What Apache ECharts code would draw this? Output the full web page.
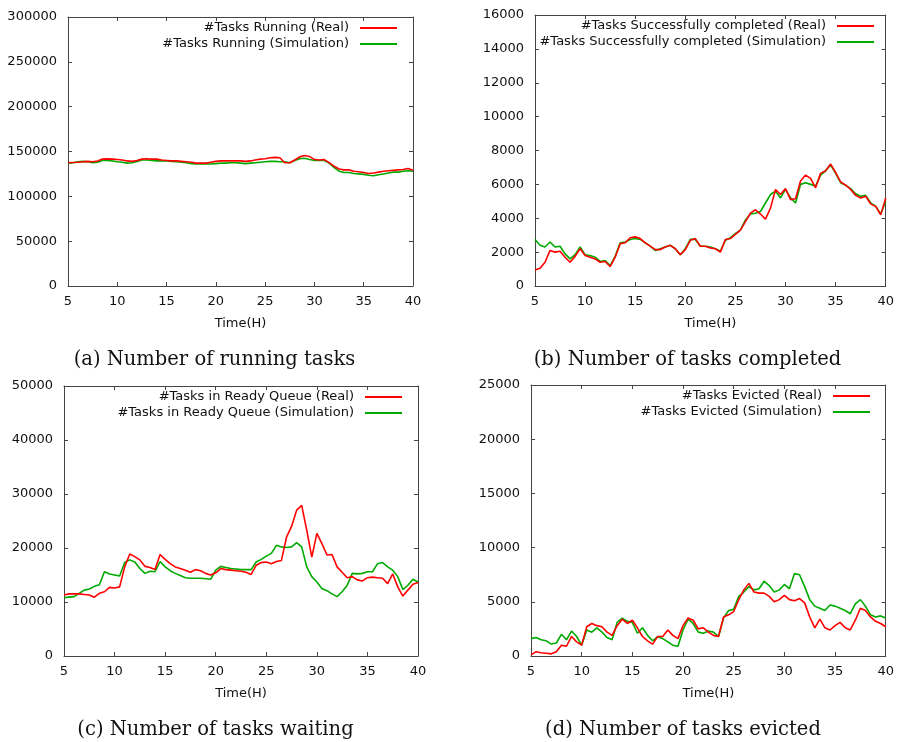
<!DOCTYPE html>
<html>
<head>
<meta charset="utf-8">
<title>tasks</title>
<script src="https://cdn.jsdelivr.net/npm/echarts@6/dist/echarts.min.js"></script>
<style>
	html, body { margin: 0; padding: 0; background: #fff; }
	#main { width: 897px; height: 742px; }
</style>
</head>
<body>
<div id="main"></div>
<script>
	// 时间轴（小时）
	var hours = [5, 5.5, 6, 6.5, 7, 7.5, 8, 8.5, 9, 9.5, 10, 10.5, 11, 11.5, 12, 12.5, 13, 13.5, 14, 14.5,
		15, 15.5, 16, 16.5, 17, 17.5, 18, 18.5, 19, 19.5, 20, 20.5, 21, 21.5, 22, 22.5, 23, 23.5, 24, 24.5,
		25, 25.5, 26, 26.5, 27, 27.5, 28, 28.5, 29, 29.5, 30, 30.5, 31, 31.5, 32, 32.5, 33, 33.5, 34, 34.5,
		35, 35.5, 36, 36.5, 37, 37.5, 38, 38.5, 39, 39.5, 40]

	// (a) running
	var runningReal = [137500, 137800, 138000, 138500, 139000, 138500, 139500, 141500, 141800, 141500,
		141000, 140500, 139500, 139000, 140000, 141500, 142000, 141500, 141500, 140500,
		140000, 139500, 139500, 139000, 138500, 138000, 137000, 137000, 137000, 138000,
		139000, 139500, 139500, 139500, 139500, 139500, 139000, 139500, 140500, 141500,
		142000, 143000, 143500, 143000, 137500, 137500, 140500, 144000, 145500, 144500,
		141000, 140500, 141000, 137500, 133500, 130500, 129500, 129500, 128000, 127500,
		126500, 125500, 126000, 127000, 128000, 128500, 129000, 129500, 130000, 131000, 129000]
	var runningSim = [137000, 137500, 138500, 139000, 138500, 137500, 138000, 140000, 140000, 139500,
		138500, 138000, 137000, 137500, 139000, 140500, 140500, 140000, 139500, 139500,
		139500, 139000, 138500, 138000, 137500, 136500, 136000, 136500, 136000, 136000,
		136500, 137000, 137000, 137500, 137500, 137000, 136500, 137000, 137500, 138000,
		138500, 139000, 139000, 138500, 138500, 137500, 140000, 142000, 142500, 141000,
		140000, 140000, 140000, 137000, 132000, 128000, 126500, 126500, 125500, 125000,
		124500, 123500, 123000, 124000, 125000, 126000, 127000, 127000, 128000, 128500, 128000]

	// (b) completed
	var completedReal = [950, 1050, 1400, 2100, 2000, 2050, 1700, 1400, 1750, 2200,
		1800, 1700, 1600, 1400, 1450, 1150, 1700, 2500, 2550, 2850,
		2900, 2800, 2550, 2350, 2150, 2150, 2300, 2400, 2200, 1850,
		2150, 2700, 2800, 2350, 2350, 2250, 2200, 2000, 2750, 2800,
		3050, 3300, 3800, 4300, 4500, 4250, 3950, 4600, 5700, 5400,
		5750, 5100, 5150, 6200, 6550, 6350, 5800, 6650, 6800, 7200,
		6700, 6150, 5950, 5700, 5350, 5200, 5300, 4850, 4700, 4200, 5200]
	var completedSim = [2750, 2400, 2300, 2600, 2300, 2350, 1900, 1600, 1850, 2300,
		1850, 1800, 1700, 1450, 1500, 1200, 1750, 2550, 2600, 2750,
		2800, 2750, 2550, 2350, 2100, 2200, 2300, 2400, 2200, 1850,
		2200, 2750, 2750, 2350, 2350, 2300, 2200, 2050, 2700, 2850,
		3100, 3300, 3900, 4250, 4300, 4400, 4900, 5400, 5600, 5200,
		5700, 5200, 4900, 6000, 6100, 6000, 5900, 6550, 6800, 7150,
		6650, 6100, 5950, 5750, 5450, 5300, 5350, 4900, 4700, 4250, 5000]

	// (c) waiting
	var waitingReal = [11300, 11500, 11500, 11500, 11400, 11300, 10900, 11600, 11900, 12700,
		12600, 12800, 16500, 18900, 18400, 17800, 16600, 16400, 16000, 18800,
		17900, 17100, 16500, 16200, 15900, 15500, 16000, 15800, 15300, 15000,
		15400, 16200, 16000, 15900, 15800, 15700, 15500, 15100, 16800, 17300,
		17400, 17100, 17500, 17700, 22000, 24000, 27000, 27900, 23300, 18300,
		22700, 20800, 18700, 18800, 16500, 15500, 14500, 14700, 14100, 13900,
		14500, 14600, 14500, 14400, 13400, 15200, 12800, 11100, 12200, 13300, 13600]
	var waitingSim = [10800, 10900, 11000, 11600, 12200, 12400, 12900, 13200, 15600, 15200,
		15000, 14800, 17300, 17800, 17400, 16200, 15300, 15700, 15600, 17500,
		16500, 15800, 15300, 14900, 14500, 14400, 14400, 14400, 14300, 14200,
		15900, 16600, 16400, 16200, 16100, 16000, 16000, 16000, 17400, 17900,
		18500, 19000, 20500, 20200, 20100, 20200, 21000, 20200, 16500, 14700,
		13700, 12500, 12100, 11500, 11000, 11900, 13100, 15300, 15200, 15300,
		15600, 15600, 17100, 17300, 16500, 15900, 14700, 12300, 13100, 14200, 13700]

	// (d) evicted
	var evictedReal = [100, 400, 300, 250, 200, 400, 1000, 900, 1800, 1300,
		1000, 2700, 3000, 2800, 2700, 2200, 1900, 2800, 3400, 3000,
		3300, 2600, 1800, 1400, 1100, 1800, 1800, 2400, 1900, 1600,
		2800, 3500, 3300, 2500, 2600, 2200, 1900, 1800, 3600, 3800,
		4100, 5200, 6100, 6700, 5900, 5800, 5800, 5500, 5000, 5200,
		5600, 5200, 5100, 5300, 4900, 3600, 2600, 3400, 2600, 2400,
		2800, 3100, 2600, 2400, 3300, 4400, 4200, 3600, 3200, 3000, 2700]
	var evictedSim = [1600, 1700, 1500, 1400, 1100, 1200, 2000, 1500, 2300, 1800,
		1000, 2400, 2200, 2600, 2200, 1700, 1500, 3100, 3500, 3200,
		3100, 2100, 2600, 1900, 1400, 1800, 1600, 1300, 1000, 900,
		2400, 3400, 3000, 2200, 2100, 2300, 2200, 1800, 3500, 4200,
		4300, 5500, 5900, 6400, 6100, 6200, 6900, 6500, 5900, 6100,
		6600, 6200, 7600, 7500, 6400, 5200, 4600, 4400, 4200, 4700,
		4600, 4400, 4200, 3900, 4800, 5200, 4600, 3800, 3600, 3700, 3500]

	var panels = [{
		real: runningReal, sim: runningSim, max: 300000, step: 50000,
		names: ['#Tasks Running (Real)', '#Tasks Running (Simulation)'],
		caption: '(a) Number of running tasks',
		grid: { left: 68, top: 17, width: 345, height: 269 },
		legendRight: 500, legendTop: 21.5, captionX: 214.5, captionY: 350
	}, {
		real: completedReal, sim: completedSim, max: 16000, step: 2000,
		names: ['#Tasks Successfully completed (Real)', '#Tasks Successfully completed (Simulation)'],
		caption: '(b) Number of tasks completed',
		grid: { left: 535, top: 15, width: 356, height: 271 },
		legendRight: 23, legendTop: 19.5, captionX: 687.5, captionY: 350
	}, {
		real: waitingReal, sim: waitingSim, max: 50000, step: 10000,
		names: ['#Tasks in Ready Queue (Real)', '#Tasks in Ready Queue (Simulation)'],
		caption: '(c) Number of tasks waiting',
		grid: { left: 64, top: 386, width: 354, height: 270 },
		legendRight: 495, legendTop: 390.5, captionX: 215.5, captionY: 720
	}, {
		real: evictedReal, sim: evictedSim, max: 25000, step: 5000,
		names: ['#Tasks Evicted (Real)', '#Tasks Evicted (Simulation)'],
		caption: '(d) Number of tasks evicted',
		grid: { left: 531, top: 385, width: 356, height: 271 },
		legendRight: 27, legendTop: 389.5, captionX: 683, captionY: 720
	}]

	var RED = '#ff0000'
	var GREEN = '#00aa00'
	var FRAME = '#444'
	var sans = 'DejaVu Sans'

	var option = {
		animation: false,
		backgroundColor: '#fff',
		grid: [], xAxis: [], yAxis: [], series: [], legend: [], title: []
	}

	function axisBase(show) {
		return {
			axisLine: { show: true, onZero: false, lineStyle: { color: FRAME, width: 1 } },
			axisTick: { show: true, inside: true, length: 4, lineStyle: { color: FRAME } },
			splitLine: { show: false },
			axisLabel: {
				show: show, color: '#111', fontSize: 13, fontFamily: sans,
				formatter: function (v) { return String(v) } // 不要千分位
			}
		}
	}

	panels.forEach(function (p, i) {
		option.grid.push(p.grid)
		// bottom + left axes (with labels)
		var xb = axisBase(true)
		Object.assign(xb, {
			type: 'value', gridIndex: i, position: 'bottom', min: 5, max: 40, interval: 5,
			name: 'Time(H)', nameLocation: 'middle', nameGap: 31,
			nameTextStyle: { color: '#111', fontSize: 13, fontFamily: sans }
		})
		xb.axisLabel.margin = 9
		option.xAxis[i] = xb
		var yl = axisBase(true)
		Object.assign(yl, { type: 'value', gridIndex: i, position: 'left', min: 0, max: p.max, interval: p.step })
		yl.axisLabel.margin = 11
		option.yAxis[i] = yl
		// mirror axes top + right, ticks only
		var xt = axisBase(false)
		Object.assign(xt, { type: 'value', gridIndex: i, position: 'top', min: 5, max: 40, interval: 5 })
		option.xAxis[i + 4] = xt
		var yr = axisBase(false)
		Object.assign(yr, { type: 'value', gridIndex: i, position: 'right', min: 0, max: p.max, interval: p.step })
		option.yAxis[i + 4] = yr

		var cols = [RED, GREEN]
		var vals = [p.real, p.sim]
		for (var k = 0; k < 2; k++) {
			option.series.push({
				name: p.names[k],
				type: 'line',
				xAxisIndex: i,
				yAxisIndex: i,
				symbol: 'none',
				data: hours.map(function (h, j) { return [h, vals[k][j]] }),
				lineStyle: { color: cols[k], width: 1.6 },
				itemStyle: { color: cols[k] },
				z: k === 0 ? 3 : 2
			})
			option.legend.push({
				data: [p.names[k]],
				right: p.legendRight,
				top: p.legendTop + k * 16,
				padding: 0,
				align: 'right',
				icon: 'rect',
				itemWidth: 37,
				itemHeight: 2,
				selectedMode: false,
				textStyle: { color: '#111', fontSize: 13, fontFamily: sans, padding: [0, 6, 0, 0] }
			})
		}
		option.title.push({
			text: p.caption,
			left: p.captionX,
			top: p.captionY,
			padding: 0,
			textAlign: 'center',
			textStyle: { fontFamily: 'DejaVu Serif', fontSize: 19.5, fontWeight: 'normal', color: '#111' }
		})
	})

	var chart = echarts.init(document.getElementById('main'), null, { renderer: 'canvas' })
	chart.setOption(option)
</script>
</body>
</html>
